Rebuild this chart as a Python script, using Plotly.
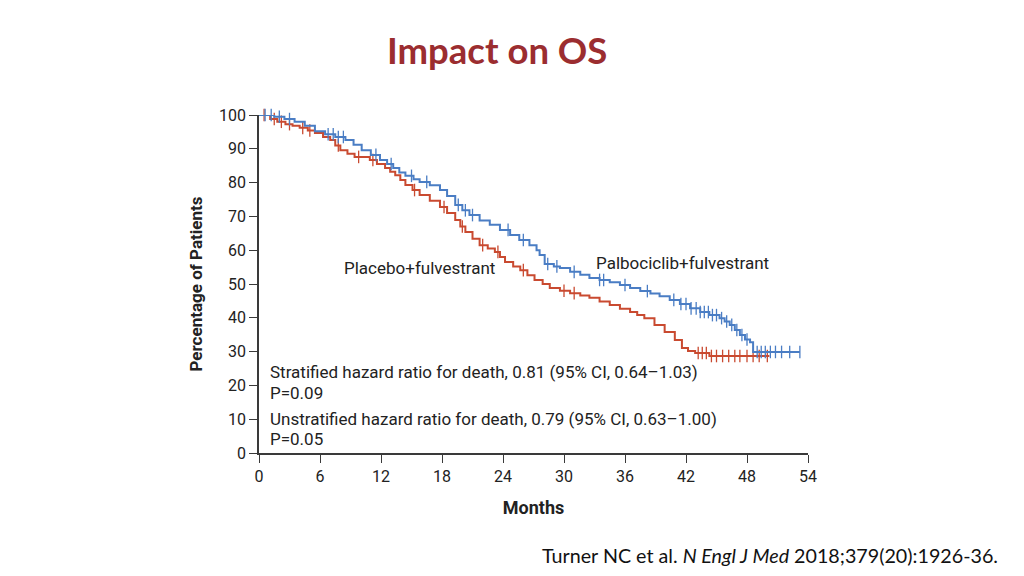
import numpy as np
import plotly.graph_objects as go

# ---- data ----
palbo_t = [0, 1.5, 2.5, 3.5, 4.5, 5.5, 6.5, 7.5, 8.5, 9.3, 10.1, 11.0, 11.9, 12.6, 13.2, 13.8, 14.4,
           15.2, 15.8, 16.8, 17.8, 18.5, 19.3, 20.0, 20.7, 21.7, 22.7, 23.7, 24.7, 25.6, 26.6, 27.3,
           27.6, 28.1, 29.0, 29.6, 30.6, 31.6, 32.5, 33.5, 34.5, 35.5, 36.5, 37.5, 38.5, 39.4, 40.4,
           41.4, 42.4, 43.4, 44.3, 45.3, 45.8, 46.3, 46.8, 47.3, 47.8, 48.3, 48.6, 53.2]
palbo_s = [100, 99.5, 98.8, 98.0, 96.8, 95.2, 94.3, 93.5, 92.6, 91.2, 89.6, 88.2, 86.7, 85.5, 84.3,
           83.0, 82.0, 81.0, 80.2, 79.2, 77.8, 76.0, 73.4, 71.8, 70.4, 68.8, 67.5, 66.0, 64.5, 63.0,
           61.5, 60.0, 58.6, 55.9, 55.2, 54.7, 53.6, 52.7, 51.8, 51.2, 50.5, 49.7, 48.8, 47.9, 47.2,
           46.4, 45.3, 44.1, 42.8, 41.7, 40.8, 39.9, 38.9, 37.9, 36.4, 34.9, 33.6, 32.8, 29.9, 29.9]
palbo_cens = [0.6, 1.2, 2.0, 3.0, 6.8, 7.3, 7.8, 8.3, 11.5, 13.0, 15.0, 16.5, 19.6, 20.3, 21.0,
              24.5, 26.0, 28.4, 29.3, 31.0, 33.5, 33.9, 36.0, 38.2, 40.8, 41.5, 42.0, 42.5, 43.0,
              43.4, 43.8, 44.2, 44.6, 45.0, 45.5, 46.0, 46.5, 47.0, 47.5, 48.0, 49.0, 49.4, 49.8,
              50.3, 50.8, 51.4, 52.2, 53.2]

placebo_t = [0, 1.1, 1.8, 2.6, 3.3, 4.0, 4.8, 5.5, 6.3, 7.0, 7.5, 8.0, 8.7, 9.4, 10.9, 11.6, 12.4,
             12.9, 13.4, 13.9, 14.4, 15.1, 15.8, 16.8, 17.8, 18.5, 19.3, 19.8, 20.3, 21.0, 21.7,
             22.5, 23.2, 23.7, 24.2, 25.0, 25.7, 26.4, 27.1, 27.9, 28.6, 29.6, 30.6, 31.6, 32.5,
             33.5, 34.5, 35.5, 36.5, 37.2, 37.9, 38.9, 39.9, 40.9, 41.6, 42.2, 42.9, 44.3, 50.2]
placebo_s = [100, 98.8, 98.0, 97.3, 96.8, 96.2, 95.4, 94.7, 93.5, 92.6, 91.0, 89.6, 88.5, 87.6, 86.7,
             85.5, 84.3, 83.2, 82.2, 80.8, 79.3, 77.8, 76.3, 74.6, 72.8, 71.0, 68.9, 67.0, 65.4,
             63.4, 61.5, 60.5, 59.5, 58.0, 56.5, 55.2, 54.1, 52.6, 51.2, 50.0, 48.8, 48.0, 47.3,
             46.6, 45.9, 44.8, 43.8, 42.7, 41.7, 40.8, 39.9, 37.9, 35.8, 33.4, 31.1, 30.2, 29.6,
             28.7, 28.7]
placebo_cens = [0.5, 1.5, 2.2, 3.0, 4.3, 5.0, 7.8, 9.8, 11.2, 15.3, 18.2, 20.0, 22.0, 23.5, 26.0,
                30.0, 31.0, 43.2, 43.6, 44.0, 44.5, 45.0, 45.6, 46.2, 46.8, 47.3, 48.0, 48.6,
                49.2, 50.0]

x_ticks = [0, 6, 12, 18, 24, 30, 36, 42, 48, 54]
y_ticks = [0, 10, 20, 30, 40, 50, 60, 70, 80, 90, 100]

BLUE = "#4a7dc4"
RED = "#c94a30"
AXIS = "#3a3a3a"
FONT = "Roboto, Lato, sans-serif"
SLIDE_FONT = "Lato, Open Sans, sans-serif"

# plot-area pixel frame (for placing slide-level text)
L, R, T, B = 259, 808, 115, 453


def px_x(p):
    return (p - L) / (R - L)


def px_y(p):
    return (B - p) / (B - T)


def step_lookup(times, surv, pts):
    idx = np.searchsorted(np.array(times), np.array(pts), side="right") - 1
    return [surv[i] for i in idx]


fig = go.Figure()
for t, s, c, color, name in [
    (placebo_t, placebo_s, placebo_cens, RED, "Placebo+fulvestrant"),
    (palbo_t, palbo_s, palbo_cens, BLUE, "Palbociclib+fulvestrant"),
]:
    fig.add_trace(go.Scatter(x=t, y=s, mode="lines", line=dict(color=color, width=2, shape="hv"),
                             name=name, showlegend=False, cliponaxis=False))
    fig.add_trace(go.Scatter(x=c, y=step_lookup(t, s, c), mode="markers",
                             marker=dict(symbol="line-ns-open", size=9, color=color,
                                         line=dict(color=color, width=1.3)),
                             showlegend=False, cliponaxis=False))

fig.update_layout(
    width=1024, height=576,
    margin=dict(l=L, r=1024 - R, t=T, b=576 - B),
    paper_bgcolor="white", plot_bgcolor="white",
    font=dict(family=FONT, color="#222222", size=16),
    xaxis=dict(range=[0, 54], tickvals=x_ticks, ticks="outside", ticklen=8, tickcolor=AXIS,
               showline=True, linecolor=AXIS, linewidth=1.5, showgrid=False, zeroline=False,
               tickfont=dict(size=16, family=FONT),
               title=dict(text="<b>Months</b>", font=dict(size=18, family=FONT), standoff=16)),
    yaxis=dict(range=[0, 100], tickvals=y_ticks, ticks="outside", ticklen=8, tickcolor=AXIS,
               showline=True, linecolor=AXIS, linewidth=1.5, showgrid=False, zeroline=False,
               tickfont=dict(size=16, family=FONT),
               title=dict(text="<b>Percentage of Patients</b>", font=dict(size=17, family=FONT), standoff=12)),
)

ann_font = dict(size=17, family=FONT)
annos = [
    dict(x=px_x(497), y=px_y(50), xref="paper", yref="paper", text="<b>Impact on OS</b>",
         font=dict(size=36.5, color="#9b2d30", family=SLIDE_FONT), xanchor="center", yanchor="middle"),
    dict(x=15.8, y=54.7, text="Placebo+fulvestrant", xanchor="center", yanchor="middle", font=ann_font),
    dict(x=41.7, y=56.2, text="Palbociclib+fulvestrant", xanchor="center", yanchor="middle", font=ann_font),
    dict(x=0.9, y=24.0, text="Stratified hazard ratio for death, 0.81 (95% CI, 0.64\u20131.03)",
         xanchor="left", yanchor="middle", font=ann_font),
    dict(x=0.9, y=17.8, text="P=0.09", xanchor="left", yanchor="middle", font=ann_font),
    dict(x=0.9, y=10.1, text="Unstratified hazard ratio for death, 0.79 (95% CI, 0.63\u20131.00)",
         xanchor="left", yanchor="middle", font=ann_font),
    dict(x=0.9, y=4.1, text="P=0.05", xanchor="left", yanchor="middle", font=ann_font),
    dict(x=px_x(1000), y=px_y(555), xref="paper", yref="paper",
         text="Turner NC et al. <i>N Engl J Med</i> 2018;379(20):1926-36.",
         xanchor="right", yanchor="middle", font=dict(size=19.7, family=SLIDE_FONT, color="#111111")),
]
for a in annos:
    a["showarrow"] = False
fig.update_layout(annotations=annos)

fig.write_html("out.html", config={"displayModeBar": False},
               post_script="document.body.style.margin='0';")
